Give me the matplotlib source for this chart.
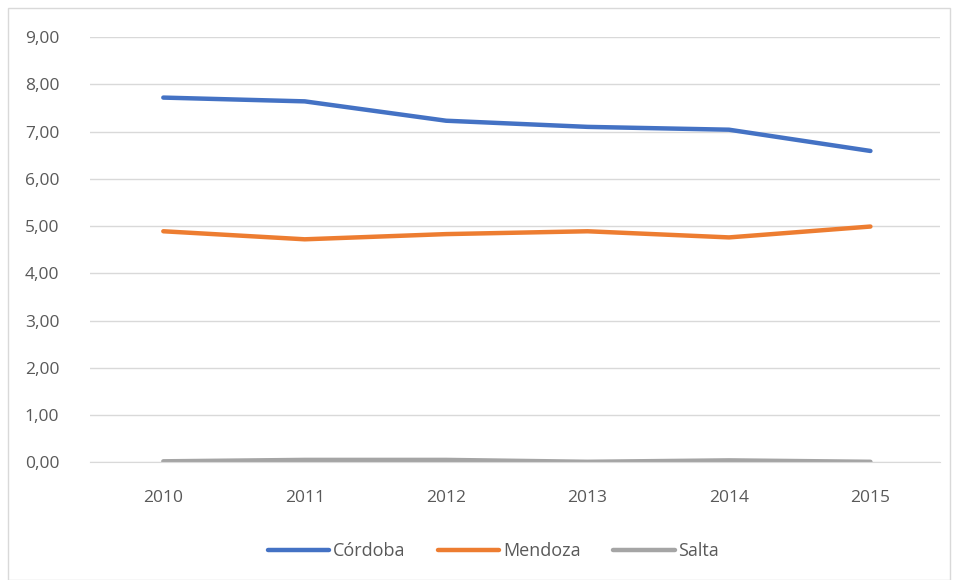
import numpy as np
import matplotlib.pyplot as plt
from matplotlib.patches import Rectangle
from matplotlib.ticker import FuncFormatter

years = ['2010', '2011', '2012', '2013', '2014', '2015']
cordoba = [7.72, 7.64, 7.23, 7.10, 7.04, 6.59]
mendoza = [4.89, 4.72, 4.83, 4.89, 4.76, 4.99]
salta = [0.02, 0.05, 0.05, 0.01, 0.04, 0.01]

plt.rcParams['font.family'] = ['Open Sans', 'DejaVu Sans']

fig = plt.figure(figsize=(9.55, 5.8), dpi=100)
ax = fig.add_axes([0.094, 0.203, 0.89, 0.733])

x = np.arange(len(years))
ax.plot(x, cordoba, color='#4472C4', lw=3.2, label='Córdoba', solid_capstyle='round')
ax.plot(x, mendoza, color='#ED7D31', lw=3.2, label='Mendoza', solid_capstyle='round')
ax.plot(x, salta, color='#A5A5A5', lw=3.2, label='Salta', solid_capstyle='round')

ax.set_xlim(-0.52, 5.49)
ax.set_ylim(0, 9)
ax.set_yticks(np.arange(0, 10, 1))
ax.yaxis.set_major_formatter(FuncFormatter(lambda v, p: f'{v:.2f}'.replace('.', ',')))
ax.set_xticks(x)
ax.set_xticklabels(years)
ax.grid(axis='y', color='#D9D9D9', lw=1)
ax.set_axisbelow(True)
for s in ['top', 'right', 'left']:
    ax.spines[s].set_visible(False)
ax.spines['bottom'].set_color('#D9D9D9')
ax.tick_params(length=0, labelsize=12.5, colors='#595959')
ax.tick_params(axis='x', pad=20)
ax.tick_params(axis='y', pad=22)

ax.legend(loc='upper center', bbox_to_anchor=(0.475, -0.15), ncol=3, frameon=False,
          fontsize=13, labelcolor='#595959', handlelength=3.4, handletextpad=0.2,
          columnspacing=1.8)

fig.patches.append(Rectangle((8 / 955, 0.0), 942 / 955, 1 - 8 / 580, transform=fig.transFigure,
                             fill=False, edgecolor='#D9D9D9', lw=1))

fig.savefig('out.png', dpi=100)
